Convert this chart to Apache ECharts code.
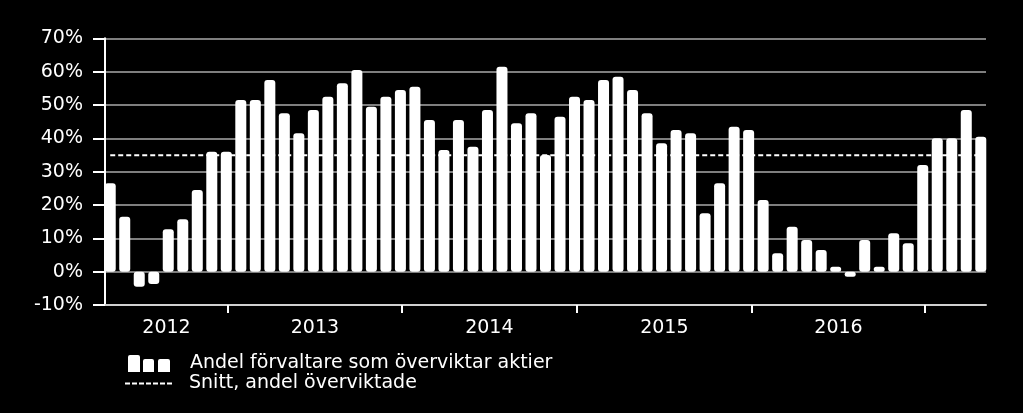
<!DOCTYPE html>
<html>
<head>
<meta charset="utf-8">
<script src="https://cdn.jsdelivr.net/npm/echarts@6/dist/echarts.min.js"></script>
<style>
html,body{margin:0;padding:0;background:#000;}
#chart{width:1023px;height:413px;}
</style>
</head>
<body>
<div id="chart"></div>
<script>
// Share of fund managers overweight equities (%), one value per survey
const shares = [26.5,16.5,-4.5,-3.7,12.7,15.7,24.5,36,36,51.5,
  51.5,57.5,47.5,41.5,48.5,52.5,56.5,60.5,49.5,52.5,
  54.5,55.5,45.5,36.5,45.5,37.5,48.5,61.5,44.5,47.5,
  35,46.5,52.5,51.5,57.5,58.5,54.5,47.5,38.5,42.5,
  41.5,17.5,26.5,43.5,42.5,21.5,5.5,13.5,9.5,6.5,
  1.5,-1.5,9.5,1.5,11.5,8.5,32,40,40,48.5,40.5];
// Average share overweight (%)
const snitt = 34.9;
// Year labels and year boundaries (in survey-index units)
const yearLabels = ['2012','2013','2014','2015','2016'];
const yearBounds = [8.12, 20.1, 32.16, 44.22, 56.17];
const xMin = -0.36, xMax = 60.36;
const yTicks = {min:-10, max:70, step:10};

const seriesName1 = 'Andel förvaltare som överviktar aktier';
const seriesName2 = 'Snitt, andel överviktade';

const yearMids = yearLabels.map((y, i) => {
  const a = i === 0 ? xMin : yearBounds[i-1];
  return (a + yearBounds[i]) / 2;
});

const FONT = 'DejaVu Sans';
const chart = echarts.init(document.getElementById('chart'), null, {renderer:'canvas'});
chart.setOption({
  backgroundColor:'#000',
  animation:false,
  grid:{left:105, right:37, top:38.3, bottom:108, containLabel:false},
  xAxis:{
    type:'value', min:xMin, max:xMax,
    axisLine:{show:true, onZero:false, lineStyle:{color:'#d0d0d0', width:2}},
    axisTick:{show:true, customValues:yearBounds, length:8, lineStyle:{color:'#fff', width:2}},
    axisLabel:{show:true, customValues:yearMids, margin:14, color:'#fff', fontSize:19, fontFamily:FONT,
      formatter:(v)=>{ const i = yearMids.findIndex(m=>Math.abs(m-v)<1e-6); return i>=0 ? yearLabels[i] : ''; }},
    splitLine:{show:false}
  },
  yAxis:{
    type:'value', min:yTicks.min, max:yTicks.max, interval:yTicks.step,
    axisLine:{show:true, onZero:false, lineStyle:{color:'#fff', width:2}},
    axisTick:{show:true, length:12, lineStyle:{color:'#fff', width:2}},
    axisLabel:{formatter:'{value}%', color:'#fff', fontSize:19, fontFamily:FONT, margin:22},
    splitLine:{show:true, lineStyle:{color:'#a8a8a8', width:1.5}}
  },
  legend:[
    {
      left:123, top:349, orient:'vertical', itemWidth:42, itemHeight:17,
      data:[{name:seriesName1, icon:'path://M2,0h8a2,2 0 0 1 2,2v15h-12v-15a2,2 0 0 1 2,-2z M17,4h7a2,2 0 0 1 2,2v11h-11v-11a2,2 0 0 1 2,-2z M32,4h8a2,2 0 0 1 2,2v11h-12v-11a2,2 0 0 1 2,-2z'}],
      textStyle:{color:'#fff', fontSize:19, fontFamily:FONT, padding:[0,0,0,15]},
      selectedMode:false
    },
    {
      left:120, top:369, orient:'vertical', itemWidth:49, itemHeight:2,
      data:[{name:seriesName2, icon:'path://M0,0h5v2h-5z M7,0h5v2h-5z M14,0h5v2h-5z M21,0h5v2h-5z M28,0h5v2h-5z M35,0h5v2h-5z M42,0h5v2h-5z', itemStyle:{color:'#fff'}}],
      textStyle:{color:'#fff', fontSize:19, fontFamily:FONT, padding:[0,0,0,11]},
      selectedMode:false
    }
  ],
  series:[
    {
      name:seriesName2, type:'line', z:1, symbol:'none', silent:true,
      itemStyle:{color:'#fff'},
      lineStyle:{color:'#fff', width:2, type:[5,3]},
      data:[[0, snitt],[shares.length-1, snitt]]
    },
    {
      name:seriesName1, type:'bar', z:2, barWidth:11,
      itemStyle:{color:'#fff', borderRadius:3},
      data:shares.map((v,i)=>[i,v])
    }
  ]
});
</script>
</body>
</html>
